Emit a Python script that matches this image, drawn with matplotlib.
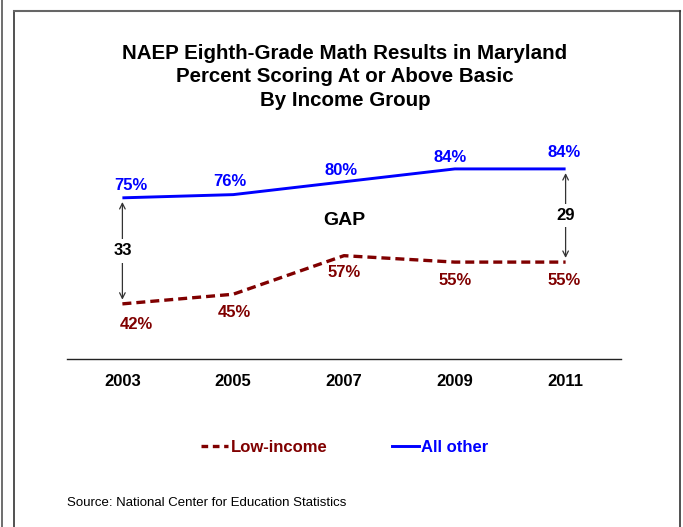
import matplotlib
matplotlib.use("Agg")
import matplotlib.pyplot as plt
from matplotlib.lines import Line2D

plt.rcParams['font.family'] = ['Liberation Sans', 'DejaVu Sans']

years = ["2003", "2005", "2007", "2009", "2011"]
low_income = [42, 45, 57, 55, 55]
all_other = [75, 76, 80, 84, 84]
gap_labels = ["33", "29"]

title = "NAEP Eighth-Grade Math Results in Maryland\nPercent Scoring At or Above Basic\nBy Income Group"
source = "Source: National Center for Education Statistics"

# label placement offsets in pixels (layout only)
blue_off = [(8, 12), (-3, 13), (-3, 11), (-5, 11), (-1, 16)]
red_off = [(14, -21), (1, -18), (0, -17), (0, -18), (-1, -18)]

BLUE = "#0000FF"
RED = "#800000"

W, H = 683, 527
fig = plt.figure(figsize=(W / 100, H / 100), dpi=100)
px = 72 / 100  # points per pixel

# frame lines
fig.add_artist(Line2D([1.5 / W, 1.5 / W], [0, 1], color="#555555", lw=1.2))
fig.add_artist(Line2D([13.5 / W, 13.5 / W], [0, 1 - 10.5 / H], color="#333333", lw=1.2))
fig.add_artist(Line2D([13.5 / W, 680 / W], [1 - 10.5 / H, 1 - 10.5 / H], color="#666666", lw=1.5))
fig.add_artist(Line2D([680 / W, 680 / W], [0, 1 - 10.5 / H], color="#333333", lw=1.2))

ax = fig.add_axes([67 / W, 1 - 358.5 / H, (621 - 67) / W, (358.5 - 117.5) / H])
x = list(range(len(years)))
ax.plot(x, all_other, color=BLUE, lw=2.1, solid_capstyle="butt")
ax.plot(x, low_income, color=RED, lw=2.4, dashes=(2.7, 1.5))

ax.set_xlim(-0.5, len(years) - 0.5)
ax.set_ylim(25, 100)
ax.set_xticks(x)
ax.set_xticklabels(years, fontsize=12, fontweight="bold")
ax.tick_params(axis="x", length=0, pad=11)
ax.set_yticks([])
for s in ["top", "right", "left"]:
    ax.spines[s].set_visible(False)
ax.spines["bottom"].set_color("#222222")
ax.spines["bottom"].set_linewidth(1.0)

for xi, v, (dx, dy) in zip(x, all_other, blue_off):
    ax.annotate(f"{v}%", (xi, v), xytext=(dx * px, dy * px), textcoords="offset points",
                ha="center", va="center", color=BLUE, fontsize=12, fontweight="bold")
for xi, v, (dx, dy) in zip(x, low_income, red_off):
    ax.annotate(f"{v}%", (xi, v), xytext=(dx * px, dy * px), textcoords="offset points",
                ha="center", va="center", color=RED, fontsize=12, fontweight="bold")

# gap arrows
for xi, lab in zip([x[0], x[-1]], gap_labels):
    ax.annotate("", xy=(xi, all_other[xi]), xytext=(xi, low_income[xi]),
                arrowprops=dict(arrowstyle="<->", color="#333333", lw=0.9,
                                shrinkA=3, shrinkB=3, mutation_scale=10))
    ax.text(xi, (all_other[xi] + low_income[xi]) / 2, lab, ha="center", va="center",
            fontsize=12, fontweight="bold", color="black",
            bbox=dict(facecolor="white", edgecolor="none", pad=3))

ax.text(2, 67.8, "GAP", ha="center", va="center", fontsize=14, fontweight="bold")

fig.text(345 / W, 1 - 77 / H, title, ha="center", va="center", fontsize=14.8,
         fontweight="bold", linespacing=1.3)

handles = [Line2D([], [], color=RED, lw=2.4, dashes=(2.0, 1.4)),
           Line2D([], [], color=BLUE, lw=2.1)]
leg = fig.legend(handles, ["Low-income", "All other"], loc="center",
                 bbox_to_anchor=(345 / W, 1 - 447 / H), ncol=2, frameon=False,
                 handlelength=1.6, handletextpad=0.15, columnspacing=3.9,
                 prop=dict(size=12, weight="bold"))
for t, c in zip(leg.get_texts(), [RED, BLUE]):
    t.set_color(c)

fig.text(67 / W, 1 - 503 / H, source, ha="left", va="center", fontsize=9.5)

fig.savefig("out.png", dpi=100)
